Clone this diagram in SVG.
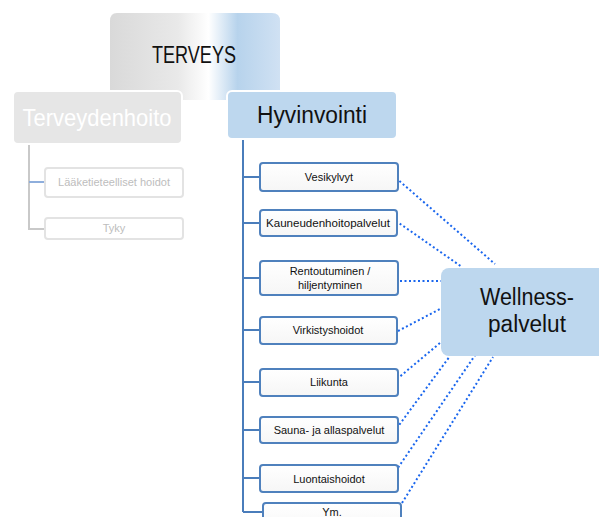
<svg xmlns="http://www.w3.org/2000/svg" width="599" height="517" viewBox="0 0 599 517">
<defs>
<linearGradient id="gTop" x1="0" y1="0" x2="1" y2="0">
<stop offset="0" stop-color="#d9d9d9"/>
<stop offset="0.4" stop-color="#e9e9e9"/>
<stop offset="0.58" stop-color="#ffffff"/>
<stop offset="0.75" stop-color="#b7d3ec"/>
<stop offset="1" stop-color="#d0e1f3"/>
</linearGradient>
<linearGradient id="gChild" x1="0" y1="0" x2="0" y2="1">
<stop offset="0" stop-color="#ffffff"/>
<stop offset="1" stop-color="#f6f6f6"/>
</linearGradient>
</defs>
<style>
text{font-family:"Liberation Sans",Arial,sans-serif;text-anchor:middle}
.big{font-size:23px;fill:#111}
.child rect{fill:url(#gChild);stroke:#4f81bd;stroke-width:2}
.child text{font-size:11px;fill:#111}
.grey rect{fill:#ffffff;stroke:#e3e3e3;stroke-width:2}
.grey text{font-size:11px;fill:#bdbdbd}
.tree{fill:none;stroke:#4a7dbb;stroke-width:2}
.dot{fill:none;stroke:#1a66ee;stroke-width:2;stroke-dasharray:2 2.5}
</style>

<g id="terveys">
<path d="M117,13 H272 Q280,13 280,21 V100 H110 V21 Q110,13 117,13 Z" fill="url(#gTop)"/>
<text class="big" x="194" y="63" textLength="84" lengthAdjust="spacingAndGlyphs">TERVEYS</text>
</g>

<g id="connectors">
<path d="M29,144 V229 H45" fill="none" stroke="#c9c9c9" stroke-width="2"/>
<path d="M29,182 H45" fill="none" stroke="#8eaedc" stroke-width="2"/>
<path class="tree" d="M243,139 V512"/>
<path class="tree" d="M243,177 H260 M243,223 H260 M243,278 H260 M243,330 H260 M243,382 H260 M243,430 H260 M243,478 H260 M243,512 H263"/>
<path class="dot" d="M396,178 L495,264"/>
<path class="dot" d="M396,221 L462,267"/>
<path class="dot" d="M400,281 L441,281"/>
<path class="dot" d="M398,331 L442,308"/>
<path class="dot" d="M397,379 L440,343"/>
<path class="dot" d="M394,432 L450,356"/>
<path class="dot" d="M393,475 L478,351"/>
<path class="dot" d="M402,503 L493,357"/>
</g>

<g id="terveydenhoito">
<rect x="13" y="91" width="169" height="53" rx="5" fill="#e6e6e6" stroke="#ffffff" stroke-width="2"/>
<text x="97" y="126" font-size="24" fill="#ffffff" textLength="149" lengthAdjust="spacingAndGlyphs">Terveydenhoito</text>
</g>

<g id="laaketieteelliset" class="grey">
<rect x="45" y="168" width="138" height="29" rx="3"/>
<text x="114" y="186">Lääketieteelliset hoidot</text>
</g>

<g id="tyky" class="grey">
<rect x="45" y="218" width="138" height="21" rx="3"/>
<text x="114" y="232">Tyky</text>
</g>

<g id="hyvinvointi">
<rect x="227" y="91" width="170" height="48" rx="5" fill="#bdd7ee" stroke="#ffffff" stroke-width="2"/>
<text class="big" x="312" y="123" textLength="110" lengthAdjust="spacingAndGlyphs">Hyvinvointi</text>
</g>

<g id="vesikylvyt" class="child">
<rect x="260" y="163" width="138" height="28" rx="3"/>
<text x="329" y="181">Vesikylvyt</text>
</g>

<g id="kauneudenhoito" class="child">
<rect x="260" y="210" width="137" height="26" rx="3"/>
<text x="328" y="227" textLength="124" lengthAdjust="spacingAndGlyphs">Kauneudenhoitopalvelut</text>
</g>

<g id="rentoutuminen" class="child">
<rect x="260" y="261" width="138" height="34" rx="3"/>
<text x="330" y="275">Rentoutuminen /</text>
<text x="330" y="289">hiljentyminen</text>
</g>

<g id="virkistyshoidot" class="child">
<rect x="260" y="317" width="137" height="27" rx="3"/>
<text x="328" y="334">Virkistyshoidot</text>
</g>

<g id="liikunta" class="child">
<rect x="260" y="369" width="138" height="27" rx="3"/>
<text x="329" y="386">Liikunta</text>
</g>

<g id="sauna" class="child">
<rect x="260" y="417" width="138" height="26" rx="3"/>
<text x="329" y="434">Sauna- ja allaspalvelut</text>
</g>

<g id="luontaishoidot" class="child">
<rect x="260" y="465" width="138" height="27" rx="3"/>
<text x="329" y="483">Luontaishoidot</text>
</g>

<g id="ym" class="child">
<rect x="263" y="503" width="138" height="30" rx="3"/>
<text x="332" y="516">Ym.</text>
</g>

<g id="wellness">
<rect x="441" y="268" width="170" height="88" rx="8" fill="#bdd7ee"/>
<text class="big" x="527" y="305" textLength="94" lengthAdjust="spacingAndGlyphs">Wellness-</text>
<text class="big" x="527" y="332" textLength="78" lengthAdjust="spacingAndGlyphs">palvelut</text>
</g>
</svg>
